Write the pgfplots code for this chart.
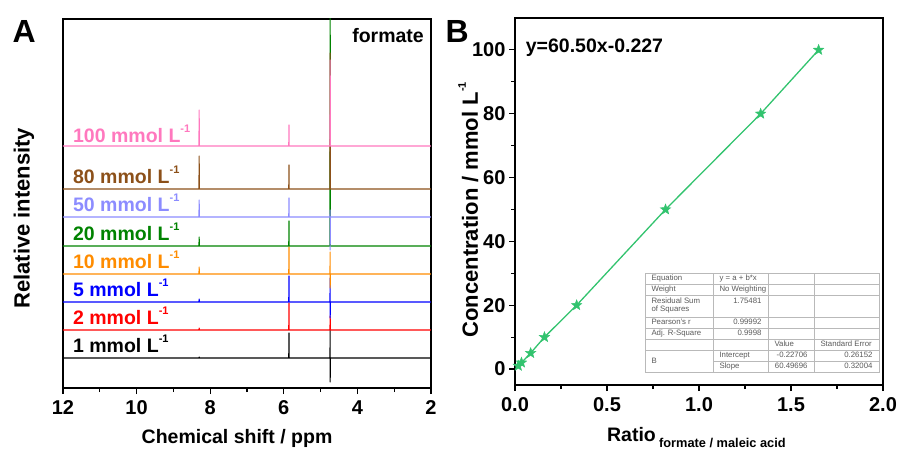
\documentclass[border=0pt]{standalone}
\usepackage{fontspec}
\setmainfont{Liberation Sans}
\usepackage{pgfplots}
\pgfplotsset{compat=1.18}
\usetikzlibrary{plotmarks}
\definecolor{cpink}{RGB}{255,120,190}
\definecolor{cbrown}{RGB}{140,80,25}
\definecolor{clav}{RGB}{140,140,255}
\definecolor{cgreen}{RGB}{0,130,0}
\definecolor{corange}{RGB}{255,140,0}
\definecolor{cblue}{RGB}{0,0,255}
\definecolor{cred}{RGB}{255,0,0}
\definecolor{fitgreen}{RGB}{50,195,110}
\definecolor{tabtext}{RGB}{90,90,90}
\definecolor{tabline}{RGB}{185,185,185}
\newcommand{\sups}[1]{\raisebox{0.55em}{\fontsize{11}{11}\selectfont #1}}
\pgfdeclareplotmark{fstar}{%
  \pgfpathmoveto{\pgfqpointpolar{90}{\pgfplotmarksize}}%
  \pgfpathlineto{\pgfqpointpolar{126}{0.42\pgfplotmarksize}}%
  \pgfpathlineto{\pgfqpointpolar{162}{\pgfplotmarksize}}%
  \pgfpathlineto{\pgfqpointpolar{198}{0.42\pgfplotmarksize}}%
  \pgfpathlineto{\pgfqpointpolar{234}{\pgfplotmarksize}}%
  \pgfpathlineto{\pgfqpointpolar{270}{0.42\pgfplotmarksize}}%
  \pgfpathlineto{\pgfqpointpolar{306}{\pgfplotmarksize}}%
  \pgfpathlineto{\pgfqpointpolar{342}{0.42\pgfplotmarksize}}%
  \pgfpathlineto{\pgfqpointpolar{18}{\pgfplotmarksize}}%
  \pgfpathlineto{\pgfqpointpolar{54}{0.42\pgfplotmarksize}}%
  \pgfpathclose
  \pgfusepathqfillstroke}
\pgfplotsset{
  common/.style={
    scale only axis, anchor=south west,
    tick align=outside, major tick length=6pt, minor tick length=4pt,
    axis line style={line width=1.1pt},
    every tick/.style={black, line width=1.1pt},
    tick label style={font=\fontsize{20}{20}\selectfont\bfseries},
    /pgf/number format/assume math mode=true,
  },
  spec/.style={line width=1.1pt, line join=round, mark=none},
}
\begin{document}
\begin{tikzpicture}[x=1pt,y=1pt]
\useasboundingbox (0,0) rectangle (899,452);
% ---------------- Panel A ----------------
\begin{axis}[common,
  at={(63pt,64pt)}, width=368pt, height=369pt,
  xmin=2, xmax=12, x dir=reverse, ymin=0, ymax=369,
  xtick={2,4,6,8,10,12}, minor x tick num=1, xtick pos=left,
  ytick=\empty,
  xticklabel style={yshift=-3pt},
  xlabel={Chemical shift / ppm},
  ylabel={Relative intensity},
  every axis x label/.style={at={(rel axis cs:0.473,0)}, anchor=base, yshift=-55pt, font=\fontsize{19.5}{20}\selectfont\bfseries},
  every axis y label/.style={at={(rel axis cs:-0.106,0.46)}, anchor=center, rotate=90, font=\fontsize{22}{22}\selectfont\bfseries},
  clip=true]
% black 1 mmol/L (baseline 30)
\addplot[spec, black] coordinates {(12,30)(8.305,30)(8.3,31)(8.295,30)(5.865,30)(5.86,55)(5.855,30)(4.745,30)(4.74,58)(4.74,6)(4.735,30)(2,30)};
% red 2 mmol/L (baseline 58)
\addplot[spec, cred] coordinates {(12,58)(8.305,58)(8.3,60)(8.295,58)(5.865,58)(5.86,85)(5.855,58)(4.745,58)(4.74,72)(4.735,58)(2,58)};
% blue 5 mmol/L (baseline 86)
\addplot[spec, cblue] coordinates {(12,86)(8.305,86)(8.3,89)(8.295,86)(5.865,86)(5.86,112)(5.855,86)(4.745,86)(4.74,110)(4.74,70)(4.735,86)(2,86)};
% orange 10 mmol/L (baseline 114)
\addplot[spec, corange] coordinates {(12,114)(8.305,114)(8.3,121)(8.295,114)(5.865,114)(5.86,141)(5.855,114)(4.745,114)(4.74,136)(4.74,100)(4.735,114)(2,114)};
% green 20 mmol/L (baseline 142)
\addplot[spec, cgreen] coordinates {(12,142)(8.305,142)(8.3,151)(8.295,142)(5.865,142)(5.86,167)(5.855,142)(4.745,142)(4.74,400)(4.735,142)(2,142)};
% lavender 50 mmol/L (baseline 171)
\addplot[spec, clav] coordinates {(12,171)(8.305,171)(8.3,188)(8.295,171)(5.865,171)(5.86,190)(5.855,171)(4.745,171)(4.74,178)(4.74,138)(4.735,171)(2,171)};
% brown 80 mmol/L (baseline 199)
\addplot[spec, cbrown] coordinates {(12,199)(8.305,199)(8.3,232)(8.295,199)(5.865,199)(5.86,223)(5.855,199)(4.745,199)(4.74,335)(4.735,199)(2,199)};
% pink 100 mmol/L (baseline 242)
\addplot[spec, cpink] coordinates {(12,242)(8.305,242)(8.3,278)(8.295,242)(5.865,242)(5.86,263)(5.855,242)(4.745,242)(4.74,328)(4.735,242)(2,242)};
\begin{scope}[font=\fontsize{19.5}{20}\selectfont\bfseries]
\node[anchor=base west, text=cpink]   at (axis cs:11.82,245) {100 mmol L\sups{-1}};
\node[anchor=base west, text=cbrown]  at (axis cs:11.82,204) {80 mmol L\sups{-1}};
\node[anchor=base west, text=clav]    at (axis cs:11.82,176) {50 mmol L\sups{-1}};
\node[anchor=base west, text=cgreen]  at (axis cs:11.82,147) {20 mmol L\sups{-1}};
\node[anchor=base west, text=corange] at (axis cs:11.82,119) {10 mmol L\sups{-1}};
\node[anchor=base west, text=cblue]   at (axis cs:11.82,91) {5 mmol L\sups{-1}};
\node[anchor=base west, text=cred]    at (axis cs:11.82,63) {2 mmol L\sups{-1}};
\node[anchor=base west, text=black]   at (axis cs:11.82,35) {1 mmol L\sups{-1}};
\node[anchor=base east, text=black]   at (axis cs:2.1,345) {formate};
\end{scope}
\end{axis}
% ---------------- Panel B ----------------
\begin{axis}[common,
  at={(515pt,67pt)}, width=368pt, height=367pt,
  xmin=0, xmax=2, ymin=-5, ymax=110,
  xtick={0,0.5,1,1.5,2}, ytick={0,20,40,60,80,100},
  minor x tick num=1, minor y tick num=1,
  xtick pos=left, ytick pos=left,
  xticklabel style={yshift=-3pt, /pgf/number format/.cd, fixed, fixed zerofill, precision=1},
  xlabel={Ratio\,\raisebox{-0.35em}{\fontsize{12.8}{13}\selectfont formate / maleic acid}},
  ylabel={Concentration / mmol L\sups{-1}},
  every axis x label/.style={at={(rel axis cs:0.493,0)}, anchor=base, yshift=-56pt, font=\fontsize{19.5}{20}\selectfont\bfseries},
  every axis y label/.style={at={(rel axis cs:-0.127,0.477)}, anchor=center, rotate=90, font=\fontsize{22}{22}\selectfont\bfseries},
  clip=false]
\addplot[fitgreen, line width=1.3pt, mark=fstar, mark size=5.5pt,
  mark options={fill=fitgreen, draw=fitgreen, line width=0.4pt}]
  coordinates {(0.018,1)(0.035,2)(0.085,5)(0.160,10)(0.335,20)(0.818,50)(1.335,80)(1.650,100)};
\node[anchor=base west, font=\fontsize{19.5}{20}\selectfont\bfseries] at (rel axis cs:0.02,0.905) {y=60.50x-0.227};
\end{axis}
% panel letters
\node[anchor=base west, font=\fontsize{32}{32}\selectfont\bfseries] at (9,409) {A};
\node[anchor=base west, font=\fontsize{32}{32}\selectfont\bfseries] at (442,409) {B};
% fit table (annotation)
\begin{scope}[font=\fontsize{7.8}{8}\selectfont, text=tabtext]
\fill[white] (645,80) rectangle (879,179);
\draw[tabline, line width=0.5pt] (645,80) rectangle (879,179);
\foreach \yy in {168,157,135,124,113,102} \draw[tabline, line width=0.5pt] (645,\yy) -- (879,\yy);
\draw[tabline, line width=0.5pt] (713,91) -- (879,91);
\foreach \xx in {713,768,814} \draw[tabline, line width=0.5pt] (\xx,80) -- (\xx,179);
\node[anchor=base west] at (648,171) {Equation};
\node[anchor=base west] at (716,171) {y = a + b*x};
\node[anchor=base west] at (648,160) {Weight};
\node[anchor=base west] at (716,160) {No Weighting};
\node[anchor=base west] at (648,148.5) {Residual Sum};
\node[anchor=base west] at (648,140) {of Squares};
\node[anchor=base east] at (765,148.5) {1.75481};
\node[anchor=base west] at (648,127) {Pearson's r};
\node[anchor=base east] at (765,127) {0.99992};
\node[anchor=base west] at (648,116) {Adj. R-Square};
\node[anchor=base east] at (765,116) {0.9998};
\node[anchor=base west] at (771,105) {Value};
\node[anchor=base west] at (817,105) {Standard Error};
\node[anchor=base west] at (648,88) {B};
\node[anchor=base west] at (716,94) {Intercept};
\node[anchor=base east] at (811,94) {-0.22706};
\node[anchor=base east] at (876,94) {0.26152};
\node[anchor=base west] at (716,83) {Slope};
\node[anchor=base east] at (811,83) {60.49696};
\node[anchor=base east] at (876,83) {0.32004};
\end{scope}
\end{tikzpicture}
\end{document}
